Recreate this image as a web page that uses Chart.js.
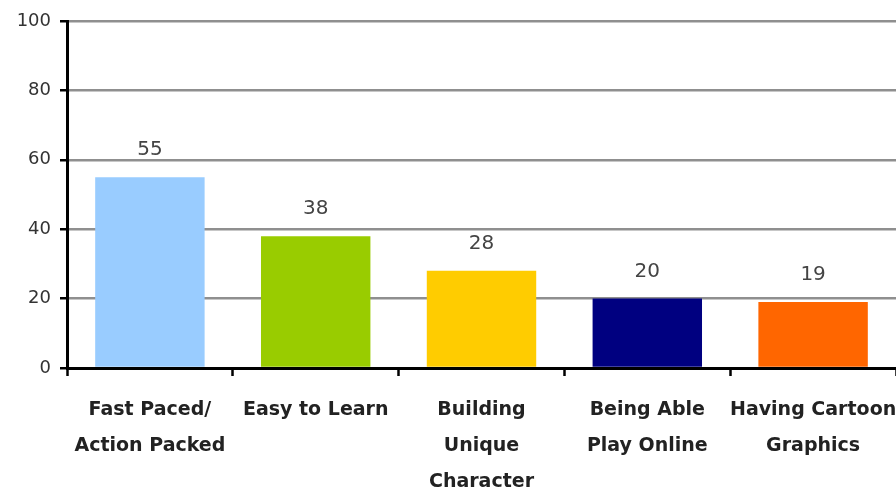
<!DOCTYPE html>
<html>
<head>
<meta charset="utf-8">
<script src="https://cdn.jsdelivr.net/npm/chart.js@4/dist/chart.umd.min.js"></script>
<style>
  body { margin: 0; background: #fff; }
  #wrap { width: 896px; height: 490px; position: relative; }
</style>
</head>
<body>
<div id="wrap"><canvas id="myChart"></canvas></div>
<script>
var categories = [
  ['Fast Paced/', 'Action Packed'],
  'Easy to Learn',
  ['Building', 'Unique', 'Character'],
  ['Being Able', 'Play Online'],
  ['Having Cartoon', 'Graphics']
];
var values = [55, 38, 28, 20, 19];
var barColors = ['#99CCFF', '#99CC00', '#FFCC00', '#000080', '#FF6600'];
var yTicks = [0, 20, 40, 60, 80, 100];

// number above each bar
const valueLabels = {
  id: 'valueLabels',
  afterDatasetsDraw(chart) {
    const ctx = chart.ctx;
    const meta = chart.getDatasetMeta(0);
    ctx.save();
    ctx.font = '20px "DejaVu Sans"';
    ctx.fillStyle = '#444';
    ctx.textAlign = 'center';
    ctx.textBaseline = 'bottom';
    meta.data.forEach((bar, i) => {
      ctx.fillText(String(values[i]), bar.x, bar.y - 17);
    });
    ctx.restore();
  }
};

var ctx = document.getElementById('myChart');
const config = {
  type: 'bar',
  data: {
    labels: categories,
    datasets: [{
      data: values,
      backgroundColor: barColors,
      borderWidth: 0,
      barPercentage: 0.66,
      categoryPercentage: 1.0
    }]
  },
  options: {
    responsive: true,
    maintainAspectRatio: false,
    animation: false,
    layout: { padding: { top: 21, right: 0, bottom: 0, left: 0 } },
    plugins: {
      legend: { display: false },
      tooltip: { enabled: false }
    },
    scales: {
      x: {
        // fixed height, and let the plot run to the right edge
        afterFit: (scale) => {
          scale.height = 122;
          scale.paddingLeft = 0;
          scale.paddingRight = 0;
        },
        border: { display: true, color: '#000', width: 3 },
        grid: {
          drawOnChartArea: false,
          drawTicks: true,
          tickLength: 8,
          tickColor: '#000',
          tickWidth: 2.5
        },
        ticks: {
          padding: 16,
          color: '#222',
          font: { family: 'DejaVu Sans', size: 19, weight: 'bold', lineHeight: 1.9 },
          maxRotation: 0,
          autoSkip: false
        }
      },
      y: {
        min: 0,
        max: 100,
        afterFit: (scale) => { scale.width = 67; },
        afterBuildTicks: (scale) => { scale.ticks = yTicks.map(v => ({ value: v })); },
        border: { display: true, color: '#000', width: 3 },
        grid: {
          color: '#8f8f8f',
          lineWidth: 2.5,
          tickLength: 7,
          tickColor: '#000',
          tickWidth: 2.5
        },
        ticks: {
          padding: 9,
          color: '#333',
          font: { family: 'DejaVu Sans', size: 18 }
        }
      }
    }
  },
  plugins: [valueLabels]
};

var chart = new Chart(ctx, config);
</script>
</body>
</html>
